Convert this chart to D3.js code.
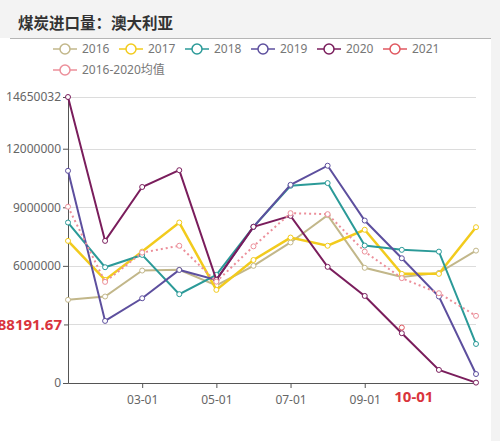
<!DOCTYPE html>
<html>
<head>
<meta charset="utf-8">
<script src="https://cdn.jsdelivr.net/npm/d3@7"></script>
<style>
body { margin:0; background:#f3f3f3; }
text { font-family: "Noto Sans", "Noto Sans CJK SC", sans-serif; }
</style>
</head>
<body>
<div id="chart"></div>
<script>
////////////////////////////////////////////////////
var months = ["01-01","02-01","03-01","04-01","05-01","06-01","07-01","08-01","09-01","10-01","11-01","12-01"];
var shownTicks = ["03-01","05-01","07-01","09-01"];
var yTicks = [0, 3000000, 6000000, 9000000, 12000000, 14650032];

var s2016 = [4260000, 4430000, 5760000, 5800000, 5000000, 6000000, 7200000, 8600000, 5900000, 5430000, 5640000, 6780000];
var s2017 = [7280000, 5280000, 6730000, 8220000, 4770000, 6300000, 7450000, 7030000, 7850000, 5590000, 5590000, 7980000];
var s2018 = [8220000, 5930000, 6560000, 4550000, 5540000, 8000000, 10100000, 10240000, 7040000, 6820000, 6730000, 2000000];
var s2019 = [10870000, 3180000, 4340000, 5790000, 5280000, 8000000, 10150000, 11130000, 8320000, 6390000, 4430000, 460000];
var s2020 = [14650032, 7280000, 10040000, 10900000, 5280000, 8000000, 8560000, 5950000, 4460000, 2550000, 670000, 20000];
var s2021 = [null, null, null, null, null, null, null, null, null, 2840000, null, null];
var sAvg = [9030000, 5180000, 6680000, 7030000, 5190000, 7000000, 8700000, 8650000, 6730000, 5370000, 4600000, 3440000];

var seriesNames = ["2016","2017","2018","2019","2020","2021","2016-2020均值"];
var seriesData = [s2016, s2017, s2018, s2019, s2020, s2021, sAvg];
var colors = ["#c2b78a","#f2cb1d","#2b9a98","#5d4f9e","#7a1d5c","#e0575f","#ec8f9a"];

var pointerX = "10-01";
var pointerY = 2988191.67;

///////////
var totalW = 500, totalH = 441;
var plotL = 68, plotR = 476, plotT = 97, plotB = 383;

var svg = d3.select("#chart").append("svg")
	.attr("width", totalW)
	.attr("height", totalH);

/////////// PANEL + TITLE
svg.append("rect")
	.attr("x", 0).attr("y", 38)
	.attr("width", 491).attr("height", totalH - 38)
	.attr("fill", "#fff");
svg.append("line")
	.attr("x1", 10).attr("x2", 491)
	.attr("y1", 38.5).attr("y2", 38.5)
	.attr("stroke", "#b5b5b5");
svg.append("text")
	.attr("x", 18).attr("y", 29)
	.style("font-family", "'Noto Sans CJK SC', sans-serif")
	.attr("font-size", 15.5)
	.attr("font-weight", "bold")
	.attr("fill", "#333")
	.text("煤炭进口量：澳大利亚");

/////////// SCALES
var x = d3.scalePoint().domain(months).range([plotL, plotR]);
var y = d3.scaleLinear().domain([0, d3.max(s2020)]).range([plotB, plotT]);

/////////// GRID
svg.selectAll("line.grid")
	.data(yTicks.filter(function(d){return d > 0;}))
	.enter().append("line")
	.attr("class", "grid")
	.attr("x1", plotL).attr("x2", plotR)
	.attr("y1", function(d){return Math.round(y(d)) + 0.5;})
	.attr("y2", function(d){return Math.round(y(d)) + 0.5;})
	.attr("stroke", "#dcdcdc");

/////////// AXES
var yAxis = d3.axisLeft(y)
	.tickValues(yTicks)
	.tickSize(5)
	.tickFormat(function(d){ return d === 3000000 ? "" : String(d); });
var gy = svg.append("g")
	.attr("transform", "translate(" + plotL + ",0)")
	.call(yAxis);
gy.select(".domain").attr("stroke", "#555");
gy.selectAll(".tick line").attr("stroke", "#555");
gy.selectAll(".tick text").attr("fill", "#666").attr("font-size", 12).attr("x", -7);

var xAxis = d3.axisBottom(x)
	.tickValues(shownTicks)
	.tickSize(5)
	.tickSizeOuter(0);
var gx = svg.append("g")
	.attr("transform", "translate(0," + plotB + ")")
	.call(xAxis);
gx.select(".domain").attr("stroke", "#555");
gx.selectAll(".tick line").attr("stroke", "#555");
gx.selectAll(".tick text").attr("fill", "#666").attr("font-size", 12).attr("dy", "1.1em");

/////////// LINES
var line = d3.line()
	.defined(function(d){return d !== null;})
	.x(function(d,i){return x(months[i]);})
	.y(function(d){return y(d);});

seriesData.forEach(function(data, k) {
	var isAvg = k === seriesData.length - 1;
	svg.append("path")
		.datum(data)
		.attr("fill", "none")
		.attr("stroke", colors[k])
		.attr("stroke-width", k === 1 ? 2.5 : 2)
		.attr("stroke-dasharray", isAvg ? "2,3" : null)
		.attr("d", line);
	svg.selectAll("circle.s" + k)
		.data(data.map(function(d,i){return {v:d, m:months[i]};}).filter(function(d){return d.v !== null;}))
		.enter().append("circle")
		.attr("class", "s" + k)
		.attr("cx", function(d){return x(d.m);})
		.attr("cy", function(d){return y(d.v);})
		.attr("r", 2.5)
		.attr("fill", "#fff")
		.attr("stroke", colors[k])
		.attr("stroke-width", 1);
});

/////////// LEGEND
var legend = svg.selectAll("g.legend")
	.data(seriesNames)
	.enter().append("g")
	.attr("class", "legend")
	.attr("transform", function(d,i){
		var row = i < 6 ? 0 : 1;
		var col = i < 6 ? i : 0;
		return "translate(" + (53 + col*66) + "," + (49 + row*21) + ")";
	});
legend.append("line")
	.attr("x1", 0).attr("x2", 24)
	.attr("stroke", function(d,i){return colors[i];})
	.attr("stroke-width", 1.5);
legend.append("circle")
	.attr("cx", 12).attr("r", 5)
	.attr("fill", "#fff")
	.attr("stroke", function(d,i){return colors[i];})
	.attr("stroke-width", 1.5);
legend.append("text")
	.attr("x", 29).attr("y", 4)
	.attr("font-size", 12)
	.attr("fill", "#777")
	.text(function(d){return d;});

/////////// POINTER LABELS
var py = y(pointerY);
svg.append("rect")
	.attr("x", -20).attr("y", py - 10)
	.attr("width", 84).attr("height", 20)
	.attr("rx", 3)
	.attr("fill", "#fff");
svg.append("text")
	.attr("x", 62).attr("y", py + 5)
	.attr("text-anchor", "end")
	.attr("font-size", 15)
	.attr("font-weight", "bold")
	.attr("fill", "#d9343c")
	.text(String(pointerY));
svg.append("text")
	.attr("x", x(pointerX) + 12).attr("y", 402)
	.attr("text-anchor", "middle")
	.attr("font-size", 15)
	.attr("font-weight", "bold")
	.attr("fill", "#d9343c")
	.text(pointerX);
////////////////////////////////////////////////////
</script>
</body>
</html>
